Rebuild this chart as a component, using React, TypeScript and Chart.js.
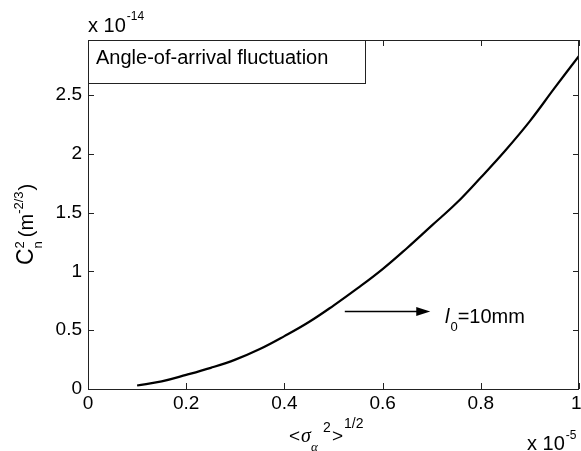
import React, { useEffect, useRef } from "react";
import { Chart, registerables } from "chart.js";

Chart.register(...registerables);

// sigma (x 1e-5) values
const sigmaValues = [0.1, 0.15, 0.2, 0.25, 0.3, 0.35, 0.4, 0.45, 0.5, 0.55, 0.6, 0.65, 0.7, 0.75, 0.8, 0.85, 0.9, 0.95, 1.0];
// Cn^2 (x 1e-14) values
const cn2Values = [0.03, 0.065, 0.12, 0.18, 0.25, 0.34, 0.45, 0.57, 0.71, 0.86, 1.02, 1.2, 1.39, 1.58, 1.8, 2.03, 2.28, 2.56, 2.835];
const xTickStep = 0.2;
const yTickStep = 0.5;
const xMax = 1;
const yMax = 2.97;
const legendText = "Angle-of-arrival fluctuation";

const SANS = "'Liberation Sans', Arial, sans-serif";
const SERIF = "'Liberation Serif', 'Times New Roman', serif";

const fmt = (v: any) => String(Math.round(Number(v) * 10) / 10);
const fmtX = (v: any) => (Number(v) >= xMax ? fmt(v) + " " : fmt(v));

const decorPlugin = {
  id: "decor",
  afterDraw(chart: any) {
    const ctx = chart.ctx as CanvasRenderingContext2D;
    const { left, right, top, bottom } = chart.chartArea;
    const xs = chart.scales.x;
    const ys = chart.scales.y;
    ctx.save();
    // box
    ctx.strokeStyle = "#222";
    ctx.lineWidth = 1;
    ctx.strokeRect(Math.round(left) + 0.5, Math.round(top) + 0.5, Math.round(right - left) - 1, Math.round(bottom - top));
    // inward ticks
    const tl = 6;
    ctx.beginPath();
    xs.ticks.forEach((t: any) => {
      const px = Math.round(xs.getPixelForValue(t.value)) + 0.5;
      ctx.moveTo(px, bottom);
      ctx.lineTo(px, bottom - tl);
      ctx.moveTo(px, top);
      ctx.lineTo(px, top + tl);
    });
    ys.ticks.forEach((t: any) => {
      const py = Math.round(ys.getPixelForValue(t.value)) + 0.5;
      ctx.moveTo(left, py);
      ctx.lineTo(left + tl, py);
      ctx.moveTo(right, py);
      ctx.lineTo(right - tl, py);
    });
    ctx.stroke();

    // legend box
    const lbRight = xs.getPixelForValue(0.564);
    const lbBottom = ys.getPixelForValue(2.6);
    ctx.fillStyle = "#fff";
    ctx.fillRect(left, top, lbRight - left, lbBottom - top);
    ctx.strokeStyle = "#222";
    ctx.strokeRect(Math.round(left) + 0.5, Math.round(top) + 0.5, Math.round(lbRight - left), Math.round(lbBottom - top));
    ctx.fillStyle = "#000";
    ctx.font = `20px ${SANS}`;
    ctx.textBaseline = "alphabetic";
    ctx.textAlign = "left";
    ctx.fillText(legendText, left + 8, top + 24);

    // arrow
    const ay = 311.5;
    const ax0 = xs.getPixelForValue(0.523);
    const ax1 = xs.getPixelForValue(0.697);
    ctx.strokeStyle = "#000";
    ctx.lineWidth = 1.5;
    ctx.beginPath();
    ctx.moveTo(ax0, ay);
    ctx.lineTo(ax1 - 10, ay);
    ctx.stroke();
    ctx.beginPath();
    ctx.moveTo(ax1, ay);
    ctx.lineTo(ax1 - 14, ay - 4.5);
    ctx.lineTo(ax1 - 14, ay + 4.5);
    ctx.closePath();
    ctx.fill();

    // l0=10mm
    let tx = 445;
    ctx.font = `italic 20px ${SANS}`;
    ctx.fillText("l", tx, 323);
    tx += ctx.measureText("l").width + 1;
    ctx.font = `13px ${SANS}`;
    ctx.fillText("0", tx, 331);
    tx += ctx.measureText("0").width;
    ctx.font = `20px ${SANS}`;
    ctx.fillText("=10mm", tx, 323);

    // y exponent label
    ctx.font = `20px ${SANS}`;
    ctx.fillText("x 10", 88, 32);
    let w = ctx.measureText("x 10").width;
    ctx.font = `12px ${SANS}`;
    ctx.fillText("-14", 88 + w + 1, 20);

    // x exponent label
    ctx.font = `20px ${SANS}`;
    ctx.fillText("x 10", 527, 450);
    w = ctx.measureText("x 10").width;
    ctx.font = `12px ${SANS}`;
    ctx.fillText("-5", 527 + w + 1, 439);

    // x axis title <σα^2>^1/2
    let x = 289;
    ctx.font = `19px ${SANS}`;
    ctx.fillText("<", x, 442);
    x += ctx.measureText("<").width + 1;
    ctx.font = `italic 20px ${SERIF}`;
    ctx.fillText("σ", x, 442);
    x += ctx.measureText("σ").width;
    ctx.font = `italic 13px ${SERIF}`;
    ctx.fillText("α", x, 451);
    ctx.font = `14px ${SANS}`;
    ctx.fillText("2", x + 12, 432);
    x += 21;
    ctx.font = `19px ${SANS}`;
    ctx.fillText(">", x, 442);
    x += ctx.measureText(">").width;
    ctx.font = `14px ${SANS}`;
    ctx.fillText("1/2", x + 1, 428);

    // y axis title C_n^2 (m^-2/3)
    ctx.save();
    ctx.translate(33, 265);
    ctx.rotate(-Math.PI / 2);
    let u = 0;
    ctx.font = `23px ${SANS}`;
    ctx.fillText("C", u, 0);
    u += ctx.measureText("C").width;
    ctx.font = `13px ${SANS}`;
    ctx.fillText("2", u, -9);
    ctx.fillText("n", u, 9);
    u += ctx.measureText("n").width + 4;
    ctx.font = `20px ${SANS}`;
    ctx.fillText("(m", u, 0);
    u += ctx.measureText("(m").width;
    ctx.font = `13px ${SANS}`;
    ctx.fillText("-2/3", u, -10);
    u += ctx.measureText("-2/3").width + 1;
    ctx.font = `20px ${SANS}`;
    ctx.fillText(")", u, 0);
    ctx.restore();

    ctx.restore();
  },
};

export default function App() {
  const ref = useRef<HTMLCanvasElement | null>(null);
  useEffect(() => {
    if (!ref.current) return;
    const data = sigmaValues.map((s, i) => ({ x: s, y: cn2Values[i] }));
    const chart = new Chart(ref.current, {
      type: "line",
      data: {
        datasets: [
          {
            data,
            borderColor: "#000",
            borderWidth: 2.2,
            pointRadius: 0,
            tension: 0.4,
            fill: false,
          },
        ],
      },
      options: {
        animation: false,
        responsive: false,
        devicePixelRatio: 1,
        layout: { padding: { top: 40, right: 2, left: 0, bottom: 0 } },
        plugins: { legend: { display: false }, tooltip: { enabled: false } },
        scales: {
          x: {
            type: "linear",
            min: 0,
            max: xMax,
            grid: { display: false, drawTicks: false },
            border: { display: false },
            ticks: {
              stepSize: xTickStep,
              padding: 3,
              color: "#000",
              font: { family: SANS, size: 19 },
              maxRotation: 0,
              callback: fmtX,
            },
            afterFit: (s: any) => {
              s.height = 62;
              s.paddingLeft = 0;
              s.paddingRight = 0;
            },
          },
          y: {
            type: "linear",
            min: 0,
            max: yMax,
            grid: { display: false, drawTicks: false },
            border: { display: false },
            ticks: {
              stepSize: yTickStep,
              includeBounds: false,
              padding: 6,
              color: "#000",
              font: { family: SANS, size: 19 },
              callback: fmt,
            },
            afterFit: (s: any) => {
              s.width = 88;
              s.paddingTop = 0;
              s.paddingBottom = 0;
            },
          },
        },
      },
      plugins: [decorPlugin],
    } as any);
    return () => chart.destroy();
  }, []);
  return (
    <div style={{ position: "absolute", left: 0, top: 0, width: 581, height: 451, background: "#fff" }}>
      <canvas ref={ref} width={581} height={451} />
    </div>
  );
}
